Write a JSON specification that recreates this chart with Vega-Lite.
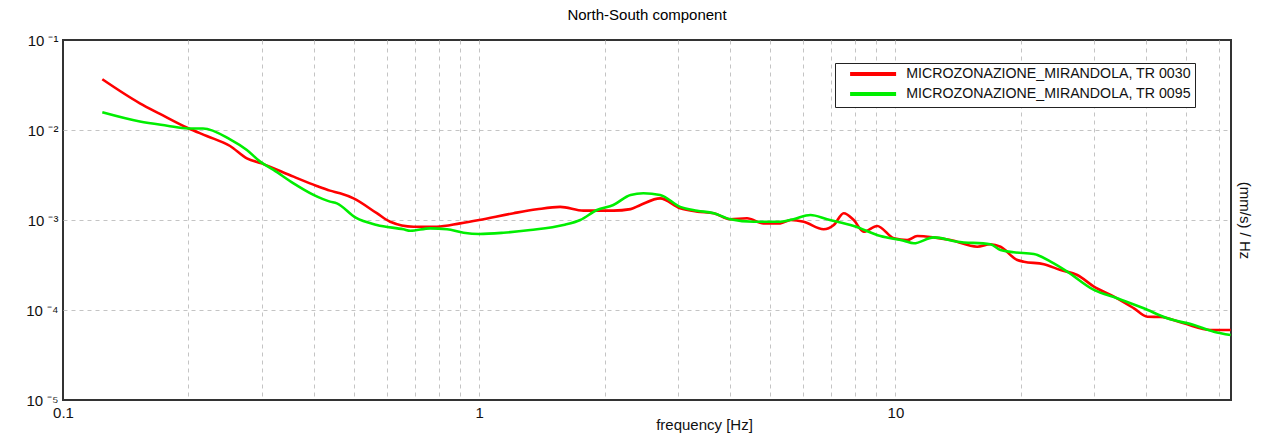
{
  "$schema": "https://vega.github.io/schema/vega-lite/v6.json",
  "width": 1168,
  "height": 360,
  "autosize": {"type": "none"},
  "padding": {"left": 63, "top": 40, "right": 33, "bottom": 41},
  "background": "white",
  "title": {"text": "North-South component", "fontSize": 15, "fontWeight": "normal", "color": "#000", "anchor": "middle", "offset": 10, "font": "Liberation Sans"},
  "config": {
    "font": "Liberation Sans",
    "view": {"stroke": "#333", "strokeWidth": 2}
  },
  "data": {"values": [
    {"f": 0.1243, "v": 0.0366, "s": "MICROZONAZIONE_MIRANDOLA, TR 0030"},
    {"f": 0.153, "v": 0.0198, "s": "MICROZONAZIONE_MIRANDOLA, TR 0030"},
    {"f": 0.171, "v": 0.0151, "s": "MICROZONAZIONE_MIRANDOLA, TR 0030"},
    {"f": 0.2, "v": 0.01045, "s": "MICROZONAZIONE_MIRANDOLA, TR 0030"},
    {"f": 0.2215, "v": 0.00858, "s": "MICROZONAZIONE_MIRANDOLA, TR 0030"},
    {"f": 0.252, "v": 0.00664, "s": "MICROZONAZIONE_MIRANDOLA, TR 0030"},
    {"f": 0.2765, "v": 0.00484, "s": "MICROZONAZIONE_MIRANDOLA, TR 0030"},
    {"f": 0.3, "v": 0.00426, "s": "MICROZONAZIONE_MIRANDOLA, TR 0030"},
    {"f": 0.358, "v": 0.00303, "s": "MICROZONAZIONE_MIRANDOLA, TR 0030"},
    {"f": 0.407, "v": 0.00239, "s": "MICROZONAZIONE_MIRANDOLA, TR 0030"},
    {"f": 0.438, "v": 0.00212, "s": "MICROZONAZIONE_MIRANDOLA, TR 0030"},
    {"f": 0.463, "v": 0.00198, "s": "MICROZONAZIONE_MIRANDOLA, TR 0030"},
    {"f": 0.499, "v": 0.00174, "s": "MICROZONAZIONE_MIRANDOLA, TR 0030"},
    {"f": 0.5675, "v": 0.00119, "s": "MICROZONAZIONE_MIRANDOLA, TR 0030"},
    {"f": 0.611, "v": 0.000957, "s": "MICROZONAZIONE_MIRANDOLA, TR 0030"},
    {"f": 0.695, "v": 0.000843, "s": "MICROZONAZIONE_MIRANDOLA, TR 0030"},
    {"f": 0.791, "v": 0.000843, "s": "MICROZONAZIONE_MIRANDOLA, TR 0030"},
    {"f": 0.9, "v": 0.000918, "s": "MICROZONAZIONE_MIRANDOLA, TR 0030"},
    {"f": 1.0, "v": 0.001, "s": "MICROZONAZIONE_MIRANDOLA, TR 0030"},
    {"f": 1.21, "v": 0.00119, "s": "MICROZONAZIONE_MIRANDOLA, TR 0030"},
    {"f": 1.376, "v": 0.001315, "s": "MICROZONAZIONE_MIRANDOLA, TR 0030"},
    {"f": 1.565, "v": 0.0014, "s": "MICROZONAZIONE_MIRANDOLA, TR 0030"},
    {"f": 1.78, "v": 0.00127, "s": "MICROZONAZIONE_MIRANDOLA, TR 0030"},
    {"f": 2.1, "v": 0.00127, "s": "MICROZONAZIONE_MIRANDOLA, TR 0030"},
    {"f": 2.31, "v": 0.00132, "s": "MICROZONAZIONE_MIRANDOLA, TR 0030"},
    {"f": 2.44, "v": 0.00147, "s": "MICROZONAZIONE_MIRANDOLA, TR 0030"},
    {"f": 2.72, "v": 0.00174, "s": "MICROZONAZIONE_MIRANDOLA, TR 0030"},
    {"f": 3.04, "v": 0.00135, "s": "MICROZONAZIONE_MIRANDOLA, TR 0030"},
    {"f": 3.34, "v": 0.00124, "s": "MICROZONAZIONE_MIRANDOLA, TR 0030"},
    {"f": 3.66, "v": 0.00119, "s": "MICROZONAZIONE_MIRANDOLA, TR 0030"},
    {"f": 4.01, "v": 0.00102, "s": "MICROZONAZIONE_MIRANDOLA, TR 0030"},
    {"f": 4.4, "v": 0.001044, "s": "MICROZONAZIONE_MIRANDOLA, TR 0030"},
    {"f": 4.82, "v": 0.000918, "s": "MICROZONAZIONE_MIRANDOLA, TR 0030"},
    {"f": 5.29, "v": 0.000918, "s": "MICROZONAZIONE_MIRANDOLA, TR 0030"},
    {"f": 5.6, "v": 0.001, "s": "MICROZONAZIONE_MIRANDOLA, TR 0030"},
    {"f": 6.02, "v": 0.000957, "s": "MICROZONAZIONE_MIRANDOLA, TR 0030"},
    {"f": 6.72, "v": 0.000788, "s": "MICROZONAZIONE_MIRANDOLA, TR 0030"},
    {"f": 7.11, "v": 0.00088, "s": "MICROZONAZIONE_MIRANDOLA, TR 0030"},
    {"f": 7.51, "v": 0.00119, "s": "MICROZONAZIONE_MIRANDOLA, TR 0030"},
    {"f": 7.94, "v": 0.001, "s": "MICROZONAZIONE_MIRANDOLA, TR 0030"},
    {"f": 8.39, "v": 0.000741, "s": "MICROZONAZIONE_MIRANDOLA, TR 0030"},
    {"f": 9.04, "v": 0.000858, "s": "MICROZONAZIONE_MIRANDOLA, TR 0030"},
    {"f": 9.91, "v": 0.000626, "s": "MICROZONAZIONE_MIRANDOLA, TR 0030"},
    {"f": 10.67, "v": 0.000599, "s": "MICROZONAZIONE_MIRANDOLA, TR 0030"},
    {"f": 11.28, "v": 0.000664, "s": "MICROZONAZIONE_MIRANDOLA, TR 0030"},
    {"f": 12.36, "v": 0.000641, "s": "MICROZONAZIONE_MIRANDOLA, TR 0030"},
    {"f": 13.56, "v": 0.000599, "s": "MICROZONAZIONE_MIRANDOLA, TR 0030"},
    {"f": 15.72, "v": 0.000505, "s": "MICROZONAZIONE_MIRANDOLA, TR 0030"},
    {"f": 16.9, "v": 0.000537, "s": "MICROZONAZIONE_MIRANDOLA, TR 0030"},
    {"f": 17.88, "v": 0.000505, "s": "MICROZONAZIONE_MIRANDOLA, TR 0030"},
    {"f": 19.62, "v": 0.000359, "s": "MICROZONAZIONE_MIRANDOLA, TR 0030"},
    {"f": 20.35, "v": 0.000344, "s": "MICROZONAZIONE_MIRANDOLA, TR 0030"},
    {"f": 22.73, "v": 0.000322, "s": "MICROZONAZIONE_MIRANDOLA, TR 0030"},
    {"f": 24.93, "v": 0.000278, "s": "MICROZONAZIONE_MIRANDOLA, TR 0030"},
    {"f": 27.34, "v": 0.000245, "s": "MICROZONAZIONE_MIRANDOLA, TR 0030"},
    {"f": 29.98, "v": 0.000182, "s": "MICROZONAZIONE_MIRANDOLA, TR 0030"},
    {"f": 33.49, "v": 0.000141, "s": "MICROZONAZIONE_MIRANDOLA, TR 0030"},
    {"f": 37.4, "v": 0.0001045, "s": "MICROZONAZIONE_MIRANDOLA, TR 0030"},
    {"f": 40.3, "v": 0.0000843, "s": "MICROZONAZIONE_MIRANDOLA, TR 0030"},
    {"f": 43.35, "v": 0.0000835, "s": "MICROZONAZIONE_MIRANDOLA, TR 0030"},
    {"f": 49.3, "v": 0.0000711, "s": "MICROZONAZIONE_MIRANDOLA, TR 0030"},
    {"f": 57.2, "v": 0.00006, "s": "MICROZONAZIONE_MIRANDOLA, TR 0030"},
    {"f": 63.9, "v": 0.00006, "s": "MICROZONAZIONE_MIRANDOLA, TR 0030"},
    {"f": 0.1243, "v": 0.0157, "s": "MICROZONAZIONE_MIRANDOLA, TR 0095"},
    {"f": 0.153, "v": 0.0124, "s": "MICROZONAZIONE_MIRANDOLA, TR 0095"},
    {"f": 0.178, "v": 0.01117, "s": "MICROZONAZIONE_MIRANDOLA, TR 0095"},
    {"f": 0.2, "v": 0.0104, "s": "MICROZONAZIONE_MIRANDOLA, TR 0095"},
    {"f": 0.217, "v": 0.0104, "s": "MICROZONAZIONE_MIRANDOLA, TR 0095"},
    {"f": 0.252, "v": 0.00788, "s": "MICROZONAZIONE_MIRANDOLA, TR 0095"},
    {"f": 0.2765, "v": 0.006, "s": "MICROZONAZIONE_MIRANDOLA, TR 0095"},
    {"f": 0.2976, "v": 0.00445, "s": "MICROZONAZIONE_MIRANDOLA, TR 0095"},
    {"f": 0.3205, "v": 0.0036, "s": "MICROZONAZIONE_MIRANDOLA, TR 0095"},
    {"f": 0.358, "v": 0.00255, "s": "MICROZONAZIONE_MIRANDOLA, TR 0095"},
    {"f": 0.3998, "v": 0.0019, "s": "MICROZONAZIONE_MIRANDOLA, TR 0095"},
    {"f": 0.438, "v": 0.0016, "s": "MICROZONAZIONE_MIRANDOLA, TR 0095"},
    {"f": 0.455, "v": 0.00153, "s": "MICROZONAZIONE_MIRANDOLA, TR 0095"},
    {"f": 0.505, "v": 0.00106, "s": "MICROZONAZIONE_MIRANDOLA, TR 0095"},
    {"f": 0.5675, "v": 0.00088, "s": "MICROZONAZIONE_MIRANDOLA, TR 0095"},
    {"f": 0.658, "v": 0.000788, "s": "MICROZONAZIONE_MIRANDOLA, TR 0095"},
    {"f": 0.683, "v": 0.00076, "s": "MICROZONAZIONE_MIRANDOLA, TR 0095"},
    {"f": 0.762, "v": 0.000808, "s": "MICROZONAZIONE_MIRANDOLA, TR 0095"},
    {"f": 0.837, "v": 0.000788, "s": "MICROZONAZIONE_MIRANDOLA, TR 0095"},
    {"f": 0.917, "v": 0.000722, "s": "MICROZONAZIONE_MIRANDOLA, TR 0095"},
    {"f": 1.0, "v": 0.000699, "s": "MICROZONAZIONE_MIRANDOLA, TR 0095"},
    {"f": 1.143, "v": 0.000722, "s": "MICROZONAZIONE_MIRANDOLA, TR 0095"},
    {"f": 1.327, "v": 0.000774, "s": "MICROZONAZIONE_MIRANDOLA, TR 0095"},
    {"f": 1.594, "v": 0.00088, "s": "MICROZONAZIONE_MIRANDOLA, TR 0095"},
    {"f": 1.749, "v": 0.001, "s": "MICROZONAZIONE_MIRANDOLA, TR 0095"},
    {"f": 1.918, "v": 0.00129, "s": "MICROZONAZIONE_MIRANDOLA, TR 0095"},
    {"f": 2.1, "v": 0.00147, "s": "MICROZONAZIONE_MIRANDOLA, TR 0095"},
    {"f": 2.31, "v": 0.0019, "s": "MICROZONAZIONE_MIRANDOLA, TR 0095"},
    {"f": 2.48, "v": 0.00198, "s": "MICROZONAZIONE_MIRANDOLA, TR 0095"},
    {"f": 2.72, "v": 0.0019, "s": "MICROZONAZIONE_MIRANDOLA, TR 0095"},
    {"f": 3.04, "v": 0.0014, "s": "MICROZONAZIONE_MIRANDOLA, TR 0095"},
    {"f": 3.34, "v": 0.00127, "s": "MICROZONAZIONE_MIRANDOLA, TR 0095"},
    {"f": 3.66, "v": 0.00119, "s": "MICROZONAZIONE_MIRANDOLA, TR 0095"},
    {"f": 4.01, "v": 0.00102, "s": "MICROZONAZIONE_MIRANDOLA, TR 0095"},
    {"f": 4.57, "v": 0.000957, "s": "MICROZONAZIONE_MIRANDOLA, TR 0095"},
    {"f": 5.29, "v": 0.000957, "s": "MICROZONAZIONE_MIRANDOLA, TR 0095"},
    {"f": 5.69, "v": 0.00102, "s": "MICROZONAZIONE_MIRANDOLA, TR 0095"},
    {"f": 6.25, "v": 0.001137, "s": "MICROZONAZIONE_MIRANDOLA, TR 0095"},
    {"f": 6.85, "v": 0.00102, "s": "MICROZONAZIONE_MIRANDOLA, TR 0095"},
    {"f": 7.94, "v": 0.000858, "s": "MICROZONAZIONE_MIRANDOLA, TR 0095"},
    {"f": 9.2, "v": 0.000664, "s": "MICROZONAZIONE_MIRANDOLA, TR 0095"},
    {"f": 10.47, "v": 0.000589, "s": "MICROZONAZIONE_MIRANDOLA, TR 0095"},
    {"f": 11.07, "v": 0.000551, "s": "MICROZONAZIONE_MIRANDOLA, TR 0095"},
    {"f": 12.36, "v": 0.000641, "s": "MICROZONAZIONE_MIRANDOLA, TR 0095"},
    {"f": 14.07, "v": 0.000574, "s": "MICROZONAZIONE_MIRANDOLA, TR 0095"},
    {"f": 16.9, "v": 0.000537, "s": "MICROZONAZIONE_MIRANDOLA, TR 0095"},
    {"f": 17.88, "v": 0.000464, "s": "MICROZONAZIONE_MIRANDOLA, TR 0095"},
    {"f": 19.24, "v": 0.000438, "s": "MICROZONAZIONE_MIRANDOLA, TR 0095"},
    {"f": 21.5, "v": 0.00042, "s": "MICROZONAZIONE_MIRANDOLA, TR 0095"},
    {"f": 23.59, "v": 0.000344, "s": "MICROZONAZIONE_MIRANDOLA, TR 0095"},
    {"f": 25.86, "v": 0.000267, "s": "MICROZONAZIONE_MIRANDOLA, TR 0095"},
    {"f": 29.98, "v": 0.000167, "s": "MICROZONAZIONE_MIRANDOLA, TR 0095"},
    {"f": 34.1, "v": 0.000135, "s": "MICROZONAZIONE_MIRANDOLA, TR 0095"},
    {"f": 39.5, "v": 0.0001045, "s": "MICROZONAZIONE_MIRANDOLA, TR 0095"},
    {"f": 45.0, "v": 0.0000808, "s": "MICROZONAZIONE_MIRANDOLA, TR 0095"},
    {"f": 52.1, "v": 0.0000681, "s": "MICROZONAZIONE_MIRANDOLA, TR 0095"},
    {"f": 58.2, "v": 0.0000574, "s": "MICROZONAZIONE_MIRANDOLA, TR 0095"},
    {"f": 63.9, "v": 0.0000527, "s": "MICROZONAZIONE_MIRANDOLA, TR 0095"}
  ]},
  "encoding": {
    "x": {
      "field": "f", "type": "quantitative",
      "scale": {"type": "log", "domain": [0.1, 64], "nice": false},
      "axis": {
        "title": "frequency [Hz]", "titleFontSize": 15, "titleFontWeight": "normal", "titleColor": "#111",
        "titleX": 641, "titleY": 24, "titleAlign": "center", "titleBaseline": "middle",
        "values": [0.1,0.2,0.3,0.4,0.5,0.6,0.7,0.8,0.9,1,2,3,4,5,6,7,8,9,10,20,30,40,50,60],
        "labelExpr": "datum.value == 0.1 ? '0.1' : datum.value == 1 ? '1' : datum.value == 10 ? '10' : ''",
        "labelFontSize": 15, "labelColor": "#111", "labelPadding": 5, "labelFlush": false, "labelOverlap": false,
        "ticks": false, "domain": false,
        "grid": true, "gridColor": "#c4c4c4", "gridDash": [4, 4], "gridWidth": 1,
        "gridOpacity": {"condition": {"test": "datum.value == 0.1", "value": 0}, "value": 1}
      }
    }
  },
  "layer": [
    {
      "mark": {"type": "line", "strokeWidth": 2.6, "interpolate": "monotone"},
      "encoding": {
        "y": {
          "field": "v", "type": "quantitative",
          "scale": {"type": "log", "domain": [0.00001, 0.1], "nice": false},
          "axis": {
            "title": null, "orient": "left",
            "values": [0.00001, 0.0001, 0.001, 0.01, 0.1],
            "labelExpr": "['10 ⁻⁵','10 ⁻⁴','10 ⁻³','10 ⁻²','10 ⁻¹'][round(log(datum.value)/LN10)+5]",
            "labelFontSize": 15, "labelColor": "#111", "labelPadding": 5,
            "ticks": false, "domain": false, "labelFlush": false,
            "grid": true, "gridColor": "#c4c4c4", "gridDash": [4, 4], "gridWidth": 1,
            "gridOpacity": {"condition": {"test": "datum.value > 0.05 || datum.value < 0.00002", "value": 0}, "value": 1}
          }
        },
        "color": {
          "field": "s", "type": "nominal",
          "scale": {"domain": ["MICROZONAZIONE_MIRANDOLA, TR 0030", "MICROZONAZIONE_MIRANDOLA, TR 0095"], "range": ["#ff0000", "#00ee00"]},
          "legend": {
            "title": null, "orient": "none", "legendX": 772, "legendY": 23,
            "labelFontSize": 14.2, "labelColor": "#111", "labelLimit": 400,
            "symbolType": "M0.8,0H10", "symbolSize": 100, "symbolStrokeWidth": 4,
            "strokeColor": "#222", "fillColor": "white", "padding": 4,
            "rowPadding": 3, "labelOffset": 53
          }
        },
        "order": {"field": "f", "type": "quantitative"}
      }
    },
    {
      "mark": {"type": "line", "strokeOpacity": 0},
      "encoding": {
        "y": {
          "field": "v", "type": "quantitative",
          "axis": {
            "title": "(mm/s)  / Hz", "orient": "right", "titleAngle": 90, "titleFontSize": 15, "titleFontWeight": "normal", "titleColor": "#111",
            "titlePadding": 5, "labels": false, "ticks": false, "domain": false, "grid": false
          }
        }
      }
    }
  ],
  "resolve": {"axis": {"y": "independent"}}
}
